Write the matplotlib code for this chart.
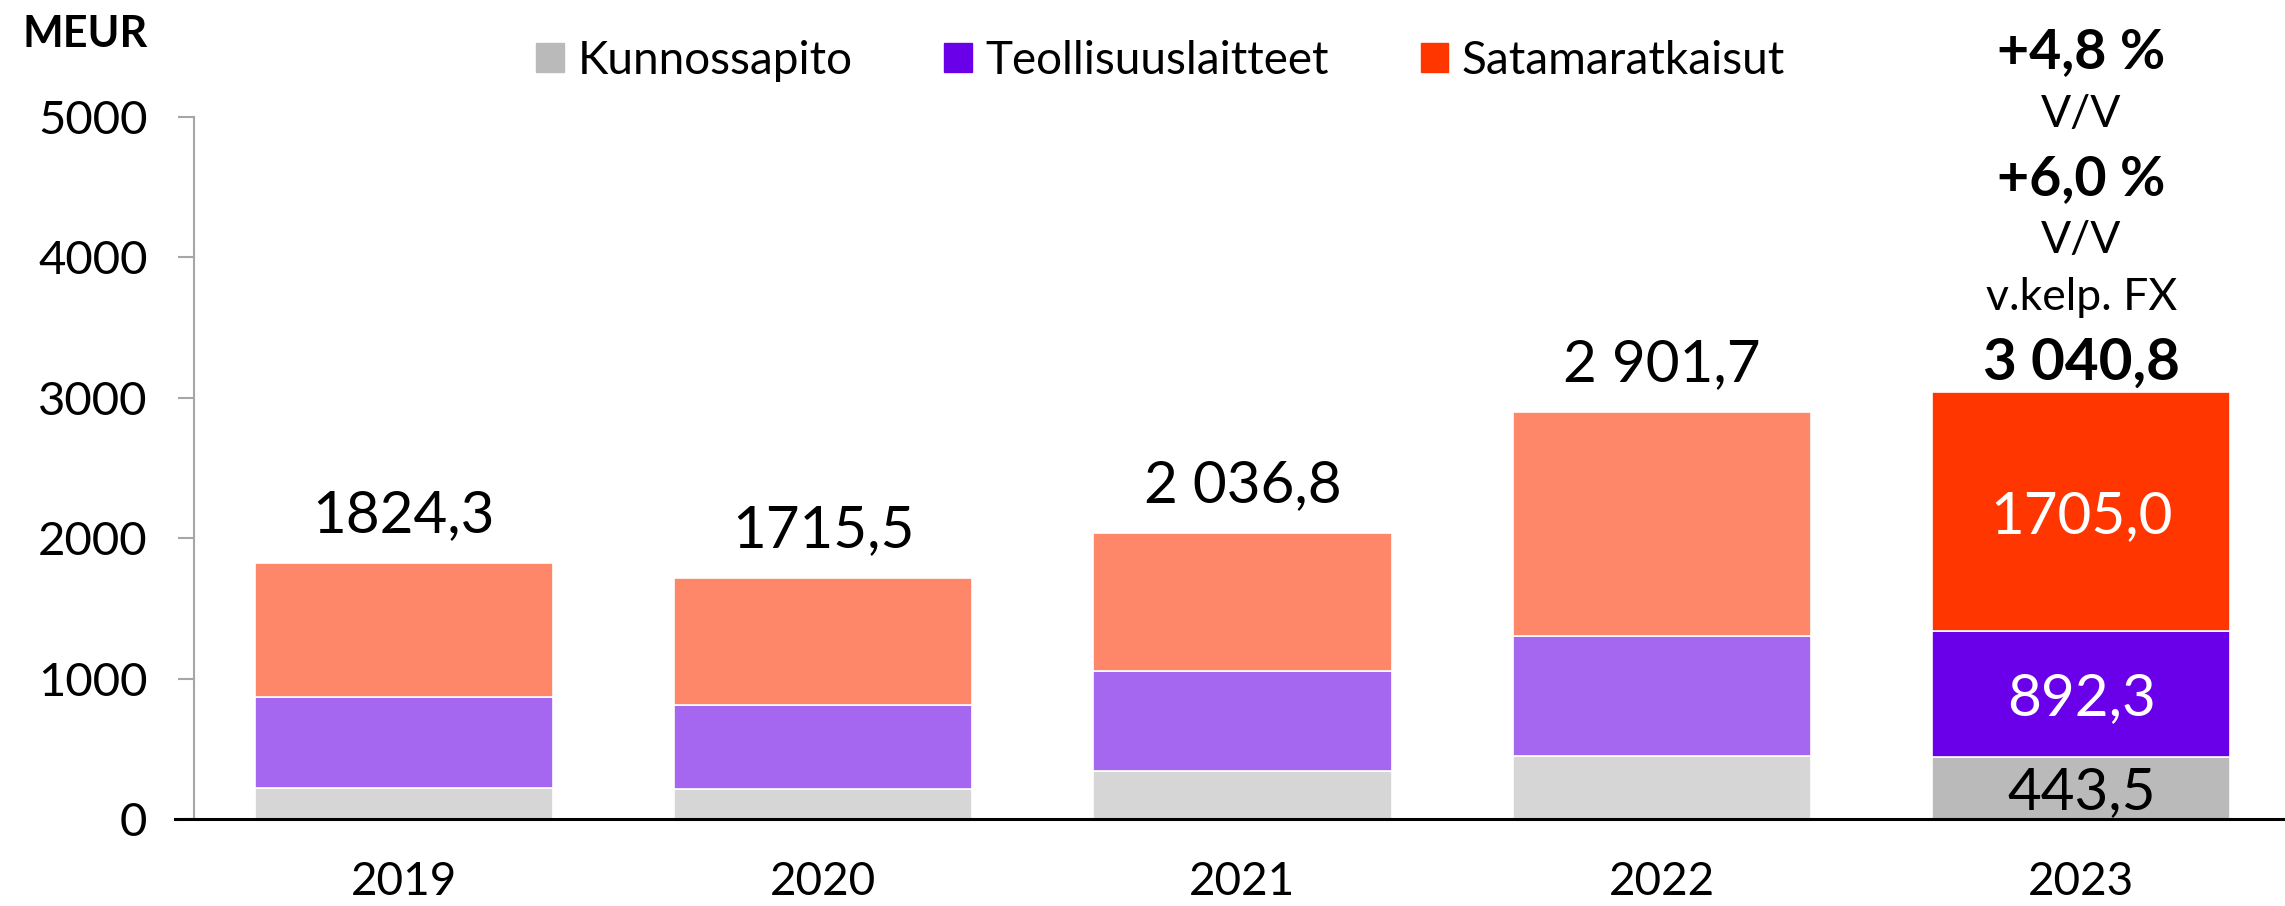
import numpy as np
import matplotlib.pyplot as plt
from matplotlib.patches import Patch
from matplotlib import transforms

plt.rcParams['font.family'] = ['Lato', 'DejaVu Sans']

# data (MEUR)
vuodet = ['2019', '2020', '2021', '2022', '2023']
kunnossapito = [220.0, 214.0, 342.0, 449.0, 443.5]
teollisuus = [649.0, 598.0, 712.0, 854.0, 892.3]
satama = [955.3, 903.5, 982.8, 1598.7, 1705.0]
yhteensa_txt = ['1824,3', '1715,5', '2 036,8', '2 901,7', '3 040,8']
osa_txt_2023 = ['443,5', '892,3', '1705,0']
otsikko_2023 = ['+4,8 %', 'V/V', '+6,0 %', 'V/V', 'v.kelp. FX']
y_ticks = [0, 1000, 2000, 3000, 4000, 5000]

# colours: pale for earlier years, full for 2023
harmaa = ['#D6D6D6'] * 4 + ['#BABABA']
violetti = ['#A566F0'] * 4 + ['#6A00E9']
punainen = ['#FF8769'] * 4 + ['#FF3600']

fig = plt.figure(figsize=(22.85, 9.06), dpi=100)
ax = fig.add_axes([0.0849, 0.0960, 0.9177, 0.7748])

x = np.arange(len(vuodet))
kunn = np.array(kunnossapito)
teol = np.array(teollisuus)
sata = np.array(satama)

lev = 0.711
ax.bar(x, kunn, lev, color=harmaa, edgecolor='white', linewidth=1.2, zorder=2)
ax.bar(x, teol, lev, bottom=kunn, color=violetti, edgecolor='white', linewidth=1.2, zorder=2)
ax.bar(x, sata, lev, bottom=kunn + teol, color=punainen, edgecolor='white', linewidth=1.2, zorder=2)

ax.set_xlim(-0.5, 4.5)
ax.set_ylim(0, 5000)
ax.set_yticks(y_ticks)
ax.set_yticklabels([str(t) for t in y_ticks], fontsize=34)
ax.set_xticks(x)
ax.set_xticklabels(vuodet, fontsize=33)
ax.tick_params(axis='x', length=0, pad=30)
ax.tick_params(axis='y', length=11.5, width=1.5, color='#A6A6A6', pad=22)

for s in ['top', 'right', 'bottom']:
    ax.spines[s].set_visible(False)
ax.spines['left'].set_color('#A6A6A6')
ax.spines['left'].set_linewidth(1.5)
ax.axhline(0, xmin=-0.009, xmax=1, color='black', linewidth=2.2, clip_on=False, zorder=3)

# totals above bars
yht = kunn + teol + sata
for i in range(len(vuodet)):
    if i < 4:
        ax.annotate(yhteensa_txt[i], (x[i], yht[i]), xytext=(0, 31), textcoords='offset pixels',
                    ha='center', va='baseline', fontsize=42)
    else:
        ax.annotate(yhteensa_txt[i], (x[i], yht[i]), xytext=(0, 12), textcoords='offset pixels',
                    ha='center', va='baseline', fontsize=42, fontweight='bold')

# segment labels for 2023
alut = [0, kunn[4], kunn[4] + teol[4]]
osat = [kunn[4], teol[4], sata[4]]
varit = ['black', 'white', 'white']
for j in range(3):
    ax.annotate(osa_txt_2023[j], (x[4], alut[j] + osat[j] / 2), xytext=(0, -21), textcoords='offset pixels',
                ha='center', va='baseline', fontsize=42, color=varit[j])

# growth texts above 2023
trans = transforms.blended_transform_factory(ax.transData, fig.transFigure)
rivit_y = [0.925, 0.860, 0.785, 0.721, 0.658]
for t, yy in zip(otsikko_2023, rivit_y):
    if '%' in t:
        ax.text(x[4], yy, t, transform=trans, ha='center', va='baseline', fontsize=40, fontweight='bold')
    else:
        ax.text(x[4], yy, t, transform=trans, ha='center', va='baseline', fontsize=32)

fig.text(0.010, 0.963, 'MEUR', fontsize=31, fontweight='bold', va='center', ha='left')

kahvat = [Patch(color='#BABABA'), Patch(color='#6A00E9'), Patch(color='#FF3600')]
fig.legend(kahvat, ['Kunnossapito', 'Teollisuuslaitteet', 'Satamaratkaisut'], loc='center',
           bbox_to_anchor=(0.508, 0.933), ncol=3, frameon=False, fontsize=33,
           handlelength=0.6, handleheight=0.6, handletextpad=0.3, columnspacing=2.0)

plt.savefig('out.png', dpi=100)
